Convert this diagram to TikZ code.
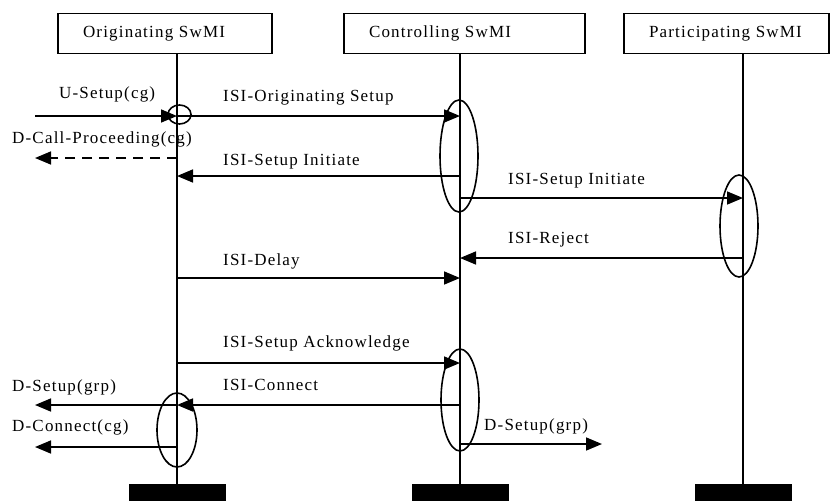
\documentclass[tikz,border=0pt]{standalone}
\usepackage{fontspec}
\newfontfamily\swmifont{Liberation Serif}[LetterSpace=7]
\usetikzlibrary{arrows.meta,positioning}
\tikzset{
  swmi/.style={draw,line width=1.6pt,minimum height=40pt,inner xsep=25pt,align=left},
  bar/.style={fill=black,minimum width=97pt,minimum height=17pt,inner sep=0pt},
  msg/.style={anchor=base west,inner sep=0pt},
  sig/.style={->,line width=1.6pt},
  proc/.style={line width=1.6pt},
}
\begin{document}
\begin{tikzpicture}[x=1pt,y=-1pt,>={Triangle[length=16pt,width=13pt]},font=\swmifont\fontsize{17pt}{20pt}\selectfont]
\useasboundingbox (0,0) rectangle (830,501);
% entities and lifelines
\node[swmi,text width=164pt] (orig) at (165,33.5) {Originating SwMI};
\node[swmi,text width=191pt] (ctrl) at (464.5,33.5) {Controlling SwMI};
\node[swmi,text width=155pt] (part) at (726.5,33.5) {Participating SwMI};
\node[bar] (obar) at (177,492.5) {};\node[bar] (cbar) at (460,492.5) {};\node[bar] (pbar) at (743,492.5) {};
\draw[proc] (obar.north |- orig.south)--(obar.north);
\draw[proc] (cbar.north |- ctrl.south)--(cbar.north);
\draw[proc] (pbar.north |- part.south)--(pbar.north);
% message points
\coordinate (u0) at (35,116);\coordinate (o1) at (177,116);\coordinate (c1) at (460,116);
\coordinate (d0) at (35,158);\coordinate (o2) at (177,158);
\coordinate (c3) at (460,176);\coordinate (o3) at (177,176);
\coordinate (c4) at (460,198);\coordinate (p4) at (743,198);
\coordinate (p5) at (743,258);\coordinate (c5) at (460,258);
\coordinate (o6) at (177,278);\coordinate (c6) at (460,278);
\coordinate (o7) at (177,363);\coordinate (c7) at (460,363);
\coordinate (c8) at (460,405);\coordinate (o8) at (177,405);\coordinate (d8) at (35,405);
\coordinate (o9) at (177,447);\coordinate (d9) at (35,447);
\coordinate (c9) at (460,444);\coordinate (x9) at (602,444);
% messages
\draw[sig] (u0)--(o1);\draw[sig] (o1)--(c1);
\draw[sig,dash pattern=on 10pt off 7pt] (o2)--(d0);
\draw[sig] (c3)--(o3);\draw[sig] (c4)--(p4);\draw[sig] (p5)--(c5);
\draw[sig] (o6)--(c6);\draw[sig] (o7)--(c7);
\draw[sig] (c8)--(o8);\draw[sig] (o8)--(d8);\draw[sig] (o9)--(d9);\draw[sig] (c9)--(x9);
% processing
\draw[proc] (179.5,114.5) ellipse [x radius=11.5,y radius=9.5];
\draw[proc] (459,156) ellipse [x radius=19,y radius=56];
\draw[proc] (739,226) ellipse [x radius=19,y radius=51];
\draw[proc] (460,400) ellipse [x radius=19,y radius=51];
\draw[proc] (177,430) ellipse [x radius=20,y radius=37];
% labels
\node[msg] (l1) at (59,98) {U-Setup(cg)};
\node[msg] (l2) at (223,101) {ISI-Originating Setup};
\node[msg] (l3) at (12,143) {D-Call-Proceeding(cg)};
\node[msg] (l4) at (223,165) {ISI-Setup Initiate};
\node[msg] (l5) at (508,184) {ISI-Setup Initiate};
\node[msg] (l6) at (508,243) {ISI-Reject};
\node[msg] (l7) at (223,265) {ISI-Delay};
\node[msg] (l8) at (223,347) {ISI-Setup Acknowledge};
\node[msg] (l9) at (223,390) {ISI-Connect};
\node[msg] (l10) at (12,391) {D-Setup(grp)};
\node[msg] (l11) at (12,431) {D-Connect(cg)};
\node[msg] (l12) at (484,430) {D-Setup(grp)};
\end{tikzpicture}
\end{document}
